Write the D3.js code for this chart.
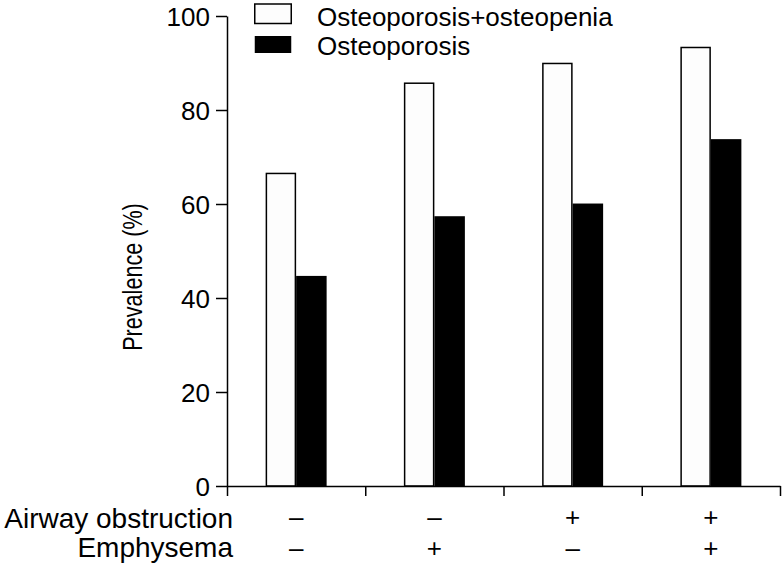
<!DOCTYPE html>
<html>
<head>
<meta charset="utf-8">
<script src="https://cdn.jsdelivr.net/npm/d3@7"></script>
<style>
  html, body { margin: 0; padding: 0; background: #fff; }
  svg { display: block; }
  text { font-family: "Liberation Sans", Arial, Helvetica, sans-serif; fill: #000; }
</style>
</head>
<body>
<svg id="chart" width="782" height="568"></svg>
<script>
// ---- data ----
const groups = ["g1", "g2", "g3", "g4"];
const airwayObstruction = ["–", "–", "+", "+"];
const emphysema = ["–", "+", "–", "+"];
const seriesNames = ["Osteoporosis+osteopenia", "Osteoporosis"];
const osteoporosisPlusOsteopenia = [66.5, 85.7, 89.9, 93.3];
const osteoporosis = [44.7, 57.4, 60.1, 73.8];
const yTicks = [0, 20, 40, 60, 80, 100];
const yLabel = "Prevalence (%)";
const rowLabels = ["Airway obstruction", "Emphysema"];

(function () {
// ---- layout ----
const svg = d3.select("#chart");
const mLeft = 227, mRight = 780, mTop = 16, mBottom = 486;

const x0 = d3.scaleBand().domain(groups).range([mLeft, mRight]).paddingInner(0).paddingOuter(0);
const barW = 30.5;
const x1 = d3.scaleBand().domain(seriesNames)
  .range([x0.bandwidth() / 2 - barW, x0.bandwidth() / 2 + barW]).padding(0);
const y = d3.scaleLinear().domain([0, 100]).range([mBottom, mTop]);

const seriesData = [osteoporosisPlusOsteopenia, osteoporosis];
const fills = ["#fdfdfd", "#000000"];

// bars
seriesNames.forEach((s, si) => {
  svg.append("g").selectAll("rect")
    .data(groups.map((g, i) => ({ g, v: seriesData[si][i] })))
    .join("rect")
    .attr("x", d => x0(d.g) + x1(s) + (si === 0 ? 0.75 : 0))
    .attr("y", d => y(d.v))
    .attr("width", x1.bandwidth() - (si === 0 ? 1.5 : 0))
    .attr("height", d => y(0) - y(d.v))
    .attr("fill", fills[si])
    .attr("stroke", si === 0 ? "#000" : "none")
    .attr("stroke-width", 1.5);
});

// y axis
const yAxis = svg.append("g")
  .attr("transform", `translate(${mLeft},0)`)
  .call(d3.axisLeft(y).tickValues(yTicks).tickSize(11).tickPadding(6).tickSizeOuter(0));
yAxis.select(".domain").attr("stroke-width", 1.5);
yAxis.selectAll(".tick line").attr("stroke-width", 1.5);
yAxis.selectAll(".tick text").attr("font-size", 26).attr("font-family", "Liberation Sans, Arial, sans-serif").attr("dy", "0.36em");

// x axis (band boundaries as ticks)
const boundaries = groups.map(g => x0(g)).concat([x0(groups[groups.length - 1]) + x0.bandwidth()]);
const xLin = d3.scaleLinear().domain([mLeft, mRight]).range([mLeft, mRight]);
const xAxis = svg.append("g")
  .attr("transform", `translate(0,${mBottom})`)
  .call(d3.axisBottom(xLin).tickValues(boundaries).tickSize(10).tickSizeOuter(0).tickFormat(""));
xAxis.select(".domain").attr("stroke-width", 1.5);
xAxis.selectAll(".tick line").attr("stroke-width", 1.5);

// y label (slightly condensed along its length, as in the reference)
svg.append("text")
  .attr("transform", `translate(142,277) rotate(-90) scale(0.8,1)`)
  .attr("text-anchor", "middle")
  .attr("font-size", 27)
  .text(yLabel);

// row labels and signs
const rowBaselines = [528, 557];
const rowSigns = [airwayObstruction, emphysema];
rowLabels.forEach((lab, r) => {
  svg.append("text")
    .attr("x", 233).attr("y", rowBaselines[r])
    .attr("text-anchor", "end")
    .attr("font-size", 28)
    .text(lab);
  svg.append("g").selectAll("text")
    .data(groups.map((g, i) => ({ g, s: rowSigns[r][i] })))
    .join("text")
    .attr("x", d => x0(d.g) + x0.bandwidth() / 2)
    .attr("y", rowBaselines[r] - (r === 0 ? 2 : 0))
    .attr("text-anchor", "middle")
    .attr("font-size", 26)
    .text(d => d.s);
});

// legend
const legend = svg.append("g");
seriesNames.forEach((s, i) => {
  legend.append("rect")
    .attr("x", 254.75).attr("y", i === 0 ? 4 : 36)
    .attr("width", 36.5).attr("height", i === 0 ? 19.5 : 17)
    .attr("fill", fills[i])
    .attr("stroke", i === 0 ? "#000" : "none")
    .attr("stroke-width", 1.5);
  legend.append("text")
    .attr("x", 317).attr("y", i === 0 ? 26 : 55)
    .attr("font-size", 26)
    .text(s);
});
})();
</script>
</body>
</html>
